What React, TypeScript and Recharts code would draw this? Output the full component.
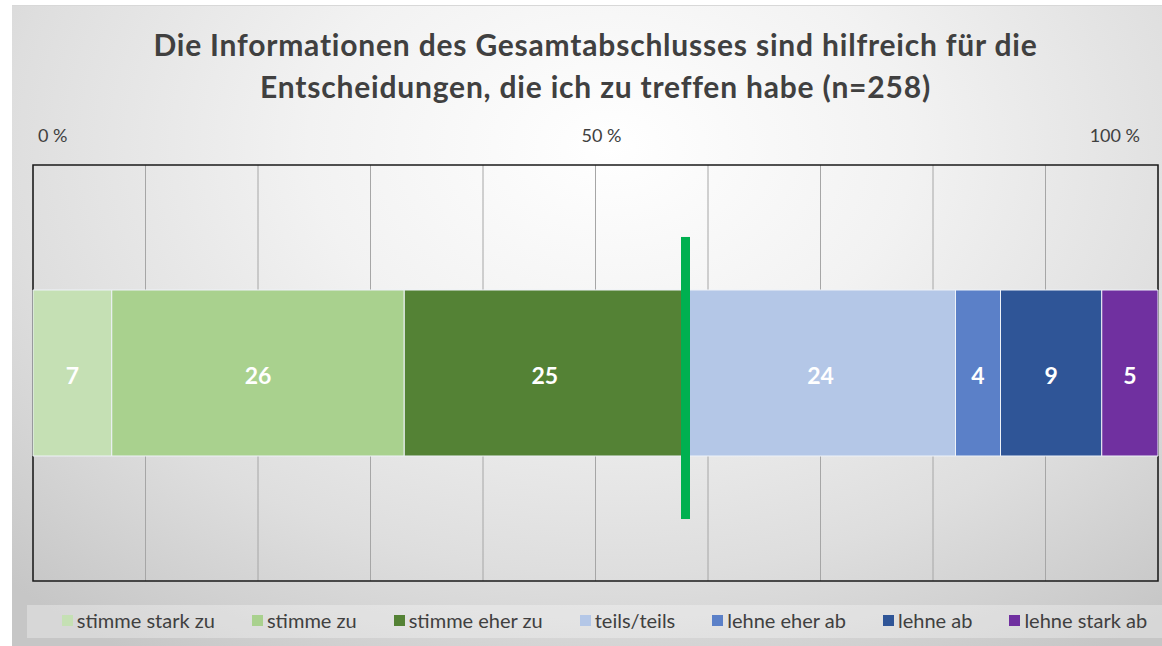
import React from "react";
import {
  BarChart,
  Bar,
  XAxis,
  YAxis,
  CartesianGrid,
  ReferenceLine,
  ReferenceArea,
  LabelList,
} from "recharts";

const questions = ["Gesamtabschluss"];
const seriesNames = [
  "stimme stark zu",
  "stimme zu",
  "stimme eher zu",
  "teils/teils",
  "lehne eher ab",
  "lehne ab",
  "lehne stark ab",
];
const seriesValues = [7, 26, 25, 24, 4, 9, 5];
const seriesColors = ["#c5e0b4", "#a9d18e", "#548235", "#b4c7e7", "#5b80c8", "#2f5597", "#7030a0"];
const gridTicks = [0, 10, 20, 30, 40, 50, 60, 70, 80, 90, 100];
const labeledTicks = [0, 50, 100];
const tickLabels = ["0 %", "50 %", "100 %"];
const agreeGroups = 3;

const FONT = "Lato, 'Open Sans', sans-serif";
const TEXT = "#404040";

const data = questions.map((q) => {
  const row: Record<string, string | number> = { name: q };
  seriesNames.forEach((s, i) => (row[s] = seriesValues[i]));
  return row;
});

const agreeShare = seriesValues.slice(0, agreeGroups).reduce((a, b) => a + b, 0);

function TopTick(props: any) {
  const { x, y, payload } = props;
  const idx = labeledTicks.indexOf(payload.value);
  if (idx < 0) return null;
  const anchor = idx === 0 ? "start" : idx === labeledTicks.length - 1 ? "end" : "middle";
  const dx = idx === 0 ? 5 : idx === labeledTicks.length - 1 ? -18 : 6;
  return (
    <text x={x + dx} y={y - 15} textAnchor={anchor} fill={TEXT} fontSize={18} fontFamily={FONT}>
      {tickLabels[idx]}
    </text>
  );
}

// green divider, shortened so it sticks out a bit above/below the bar
function Divider(props: any) {
  const { x1, y1, y2 } = props;
  const h = y2 - y1;
  return <rect x={x1 - 4.5} y={y1 + h * 0.173} width={9} height={h * 0.678} fill="#00b050" />;
}

export default function App() {
  return (
    <div style={{ position: "absolute", left: 0, top: 0, width: 1162, height: 646, background: "#fff", fontFamily: FONT }}>
      <div
        style={{
          position: "absolute",
          left: 12,
          top: 5,
          width: 1150,
          height: 641,
          borderTop: "1px solid #d8d8d8",
          background: "radial-gradient(ellipse 75% 95% at 52% 22%, #ffffff 0%, #f2f2f2 35%, #dedede 70%, #c6c6c6 100%)",
        }}
      />
      <div
        style={{
          position: "absolute",
          left: 33,
          top: 23,
          width: 1125,
          textAlign: "center",
          fontSize: 30,
          letterSpacing: 0.8,
          lineHeight: "42px",
          fontWeight: 700,
          color: TEXT,
        }}
      >
        Die Informationen des Gesamtabschlusses sind hilfreich für die
        <br />
        Entscheidungen, die ich zu treffen habe (n=258)
      </div>
      <div style={{ position: "absolute", left: 0, top: 0 }}>
        <BarChart
          width={1162}
          height={646}
          layout="vertical"
          data={data}
          margin={{ top: 135, right: 4, bottom: 65, left: 33 }}
        >
          <CartesianGrid horizontal={false} stroke="#a6a6a6" strokeWidth={1} />
          <XAxis
            type="number"
            domain={[0, 100]}
            ticks={gridTicks}
            orientation="top"
            height={30}
            axisLine={false}
            tickLine={false}
            tick={<TopTick />}
            interval={0}
          />
          <YAxis type="category" dataKey="name" hide />
          {seriesNames.map((s, i) => (
            <Bar
              key={s}
              dataKey={s}
              stackId="a"
              fill={seriesColors[i]}
              stroke="#eef2f8"
              strokeWidth={1}
              barSize={166}
              isAnimationActive={false}
            >
              <LabelList
                dataKey={s}
                position="center"
                fill="#ffffff"
                fontSize={23}
                fontWeight={700}
                fontFamily={FONT}
                dy={3}
              />
            </Bar>
          ))}
          <ReferenceArea x1={0} x2={100} fill="none" stroke="#1a1a1a" strokeWidth={1.5} fillOpacity={0} />
          <ReferenceLine x={agreeShare} stroke="#00b050" shape={<Divider />} />
        </BarChart>
      </div>
      <div
        style={{
          position: "absolute",
          left: 27,
          top: 605,
          width: 1135,
          height: 33,
          boxSizing: "border-box",
          paddingLeft: 20,
          paddingBottom: 3,
          background: "rgba(255,255,255,0.3)",
          display: "flex",
          alignItems: "center",
          justifyContent: "center",
          gap: 37,
          fontSize: 20,
          color: TEXT,
        }}
      >
        {seriesNames.map((s, i) => (
          <div key={s} style={{ display: "flex", alignItems: "center" }}>
            <span style={{ display: "inline-block", width: 11, height: 11, background: seriesColors[i], marginRight: 4 }} />
            <span>{s}</span>
          </div>
        ))}
      </div>
    </div>
  );
}
